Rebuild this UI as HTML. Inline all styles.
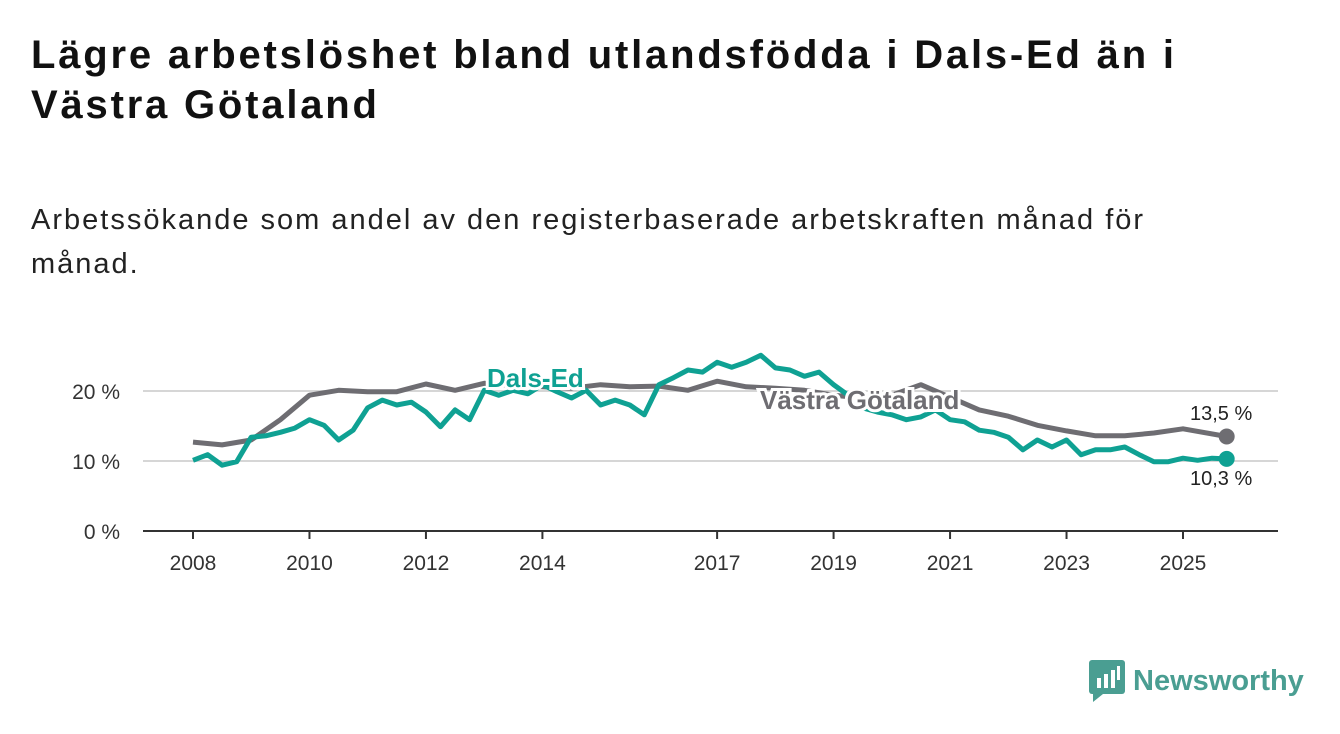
<!DOCTYPE html>
<html><head><meta charset="utf-8"><style>
body{margin:0;width:1340px;height:734px;background:#fff;font-family:"Liberation Sans",sans-serif;overflow:hidden;position:relative}
h1{position:absolute;left:31px;top:30px;margin:0;font-size:40px;line-height:50px;font-weight:bold;color:#111;width:1200px;letter-spacing:2.8px}
p.sub{position:absolute;left:31px;top:198px;margin:0;font-size:29px;line-height:44px;color:#222;width:1190px;letter-spacing:2px}
</style></head><body>
<h1>Lägre arbetslöshet bland utlandsfödda i Dals-Ed än i Västra Götaland</h1>
<p class="sub">Arbetssökande som andel av den registerbaserade arbetskraften månad för månad.</p>
<svg id="chart" width="1340" height="734" style="position:absolute;left:0;top:0"></svg>
<div style="position:absolute;left:1089px;top:660px;display:flex;align-items:center">
<svg width="36" height="42"><rect x="0" y="0" width="36" height="34" rx="3" fill="#4a9e92"/><polygon points="4,34 14,34 4,42" fill="#4a9e92"/><rect x="8" y="18" width="4" height="10" fill="#fff"/><rect x="15" y="14" width="4" height="14" fill="#fff"/><rect x="22" y="10" width="4" height="18" fill="#fff"/><rect x="28" y="6" width="3" height="14" fill="#fff"/></svg>
<span style="font-size:29px;font-weight:bold;color:#4a9e92;margin-left:8px">Newsworthy</span></div>
<script>
const years=[2008,2010,2012,2014,2017,2019,2021,2023,2025];
const yTicks=[0,10,20];
const gX=[2008,2008.5,2009,2009.5,2010,2010.5,2011,2011.5,2012,2012.5,2013,2013.5,2014,2014.5,2015,2015.5,2016,2016.5,2017,2017.5,2018,2018.5,2019,2019.5,2020,2020.5,2021,2021.5,2022,2022.5,2023,2023.5,2024,2024.5,2025,2025.75];
const gY=[12.7,12.3,13,15.9,19.4,20.1,19.9,19.9,21,20.1,21.1,20.8,20.6,20.4,20.9,20.6,20.7,20.1,21.4,20.6,20.4,20.1,19.4,19,19.4,20.9,19.1,17.3,16.4,15.1,14.3,13.6,13.6,14,14.6,13.5];
const tY=[10.1,10.9,9.4,9.9,13.4,13.6,14.1,14.7,15.9,15.1,13,14.4,17.6,18.7,18,18.4,17,14.9,17.3,15.9,20.1,19.4,20.1,19.6,20.9,19.9,19,20.1,18,18.7,18,16.6,20.9,21.9,23,22.7,24.1,23.4,24.1,25.1,23.3,23,22.1,22.7,20.9,19.4,17.6,17,16.6,15.9,16.3,17.3,15.9,15.6,14.4,14.1,13.4,11.6,13,12,13,10.9,11.6,11.6,12,10.9,9.9,9.9,10.4,10.1,10.4,10.3];
const tX=tY.map((v,i)=>2008+i*0.25);
const svg=document.getElementById('chart');const NS='http://www.w3.org/2000/svg';
const xS=y=>193+(y-2008)*(990/17);const yS=v=>531-v*7;
function mk(t,a,p){const e=document.createElementNS(NS,t);for(const k in a)e.setAttribute(k,a[k]);(p||svg).appendChild(e);return e;}
yTicks.forEach(v=>{
 if(v>0){const l=mk('line',{x1:143,x2:1278,y1:yS(v),y2:yS(v),stroke:'#d6d6d6','stroke-width':2});
 
 }
 const t=mk('text',{x:120,y:yS(v)+8,'text-anchor':'end','font-size':21,fill:'#333','font-family':'Liberation Sans'});t.textContent=v+' %';
 
 
});
const ax=mk('line',{x1:143,x2:1278,y1:531,y2:531,stroke:'#333','stroke-width':2});


years.forEach(y=>{mk('line',{x1:xS(y),x2:xS(y),y1:531,y2:539,stroke:'#333','stroke-width':2});
 const t=mk('text',{x:xS(y),y:570,'text-anchor':'middle','font-size':21,fill:'#333','font-family':'Liberation Sans'});t.textContent=y;
 
 });
function line(xs,ys,c,n){const d=xs.map((x,i)=>(i?'L':'M')+xS(x).toFixed(1)+','+yS(ys[i]).toFixed(1)).join('');
 const p=mk('path',{d:d,fill:'none',stroke:c,'stroke-width':5,'stroke-linejoin':'round'});
 
 }
line(gX,gY,'#6e6d72','line-vastra-gotaland');
line(tX,tY,'#0fa193','line-dals-ed');
function lab(x,y,s,c,n,sz,w){const t=mk('text',{x:x,y:y,'font-size':sz,'font-weight':w,fill:c,stroke:'#fff','stroke-width':w=='bold'?6:0,'paint-order':'stroke','font-family':'Liberation Sans'});t.textContent=s;
 
 return t;}
lab(487,387,'Dals-Ed','#0fa193','label-dals-ed',26,'bold');
lab(760,409,'Västra Götaland','#6e6d72','label-vastra-gotaland',26,'bold');
const gl=gX.length-1,tl=tX.length-1;
const d1=mk('circle',{cx:xS(gX[gl]),cy:yS(gY[gl]),r:8,fill:'#6e6d72'});


const d2=mk('circle',{cx:xS(tX[tl]),cy:yS(tY[tl]),r:8,fill:'#0fa193'});


lab(1190,420,String(gY[gl]).replace('.',',')+' %','#222','end-value-vastra-gotaland',20,'normal');
lab(1190,485,String(tY[tl]).replace('.',',')+' %','#222','end-value-dals-ed',20,'normal');
</script>
</body></html>
